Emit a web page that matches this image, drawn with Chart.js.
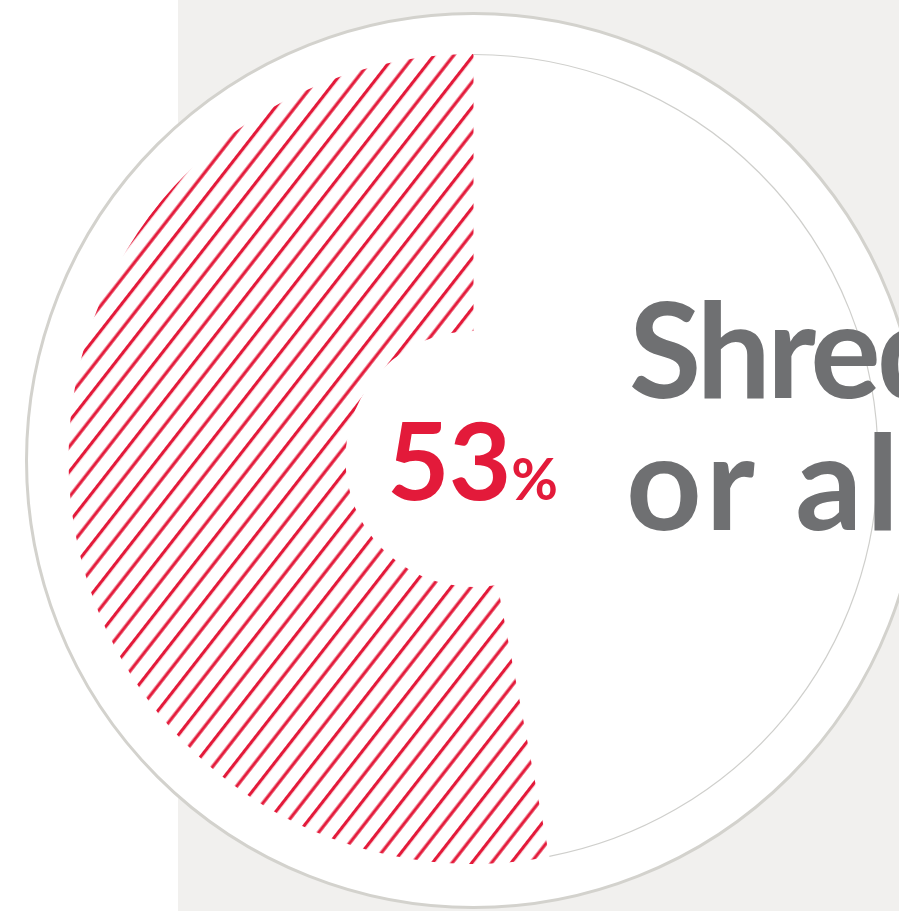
<!DOCTYPE html>
<html>
<head>
<meta charset="utf-8">
<script src="https://cdn.jsdelivr.net/npm/chart.js@4.4.1/dist/chart.umd.min.js"></script>
<style>
  html, body { margin: 0; padding: 0; background: #ffffff; overflow: hidden; }
  #c { display: block; }
</style>
</head>
<body>
<canvas id="c" width="899" height="911"></canvas>
<script>
// ---- data ----
const categories = ["Other", "Shred or all"];
const values = [47, 53];
const centerValue = "53";
const centerUnit = "%";
const titleLines = ["Shred", "or all"];

// ---- styles ----
const RED = "#e31a3a";
const GREY_TEXT = "#6f7072";
const PANEL = "#f1f0ee";
const RING = "#d3d2cd";

function makeHatch() {
  const tile = document.createElement("canvas");
  tile.width = 20; tile.height = 31;
  const t = tile.getContext("2d");
  t.fillStyle = RED;
  t.fillRect(0, 0, 20, 3.2);
  t.fillRect(0, 15.5, 20, 3.2);
  const p = document.getElementById("c").getContext("2d").createPattern(tile, "repeat");
  p.setTransform(new DOMMatrix().translate(0, 4).rotate(-52));
  return p;
}

const decor = {
  id: "decor",
  beforeDraw(chart) {
    const ctx = chart.ctx;
    const arc = chart.getDatasetMeta(0).data[0];
    ctx.save();
    ctx.fillStyle = "#ffffff";
    ctx.fillRect(0, 0, chart.width, chart.height);
    ctx.fillStyle = PANEL;
    ctx.fillRect(178, 0, chart.width - 178, chart.height);
    ctx.beginPath();
    ctx.arc(arc.x, arc.y + 1.5, arc.outerRadius + 42, 0, Math.PI * 2);
    ctx.fillStyle = "#ffffff";
    ctx.fill();
    ctx.lineWidth = 3;
    ctx.strokeStyle = RING;
    ctx.stroke();
    ctx.restore();
  },
  afterDatasetsDraw(chart) {
    const ctx = chart.ctx;
    const arc = chart.getDatasetMeta(0).data[0];
    ctx.save();
    ctx.beginPath();
    ctx.arc(arc.x, arc.y, arc.outerRadius - 0.5, arc.startAngle, arc.endAngle);
    ctx.lineWidth = 1.2;
    ctx.strokeStyle = "#cfcfcc";
    ctx.stroke();

    ctx.textBaseline = "alphabetic";
    ctx.textAlign = "left";
    ctx.fillStyle = RED;
    ctx.font = "bold 108px Lato";
    ctx.letterSpacing = "-1px";
    ctx.fillText(centerValue, 387, 500);
    const w = ctx.measureText(centerValue).width;
    ctx.letterSpacing = "0px";
    ctx.font = "bold 57px Lato";
    ctx.fillText(centerUnit, 387 + w + 1, 500);

    ctx.fillStyle = GREY_TEXT;
    ctx.font = "bold 132px Lato";
    ctx.letterSpacing = "-4px";
    ctx.fillText(titleLines[0], 629, 398);
    ctx.letterSpacing = "4px";
    ctx.fillText(titleLines[1], 626, 530);
    ctx.restore();
  }
};

new Chart(document.getElementById("c"), {
  type: "doughnut",
  data: {
    labels: categories,
    datasets: [{
      data: values,
      backgroundColor: ["#ffffff", makeHatch()],
      borderWidth: 0,
      hoverOffset: 0
    }]
  },
  options: {
    responsive: false,
    animation: false,
    cutout: "31.6%",
    rotation: 0,
    layout: { padding: { top: 54, bottom: 47, left: 68.5, right: 20.5 } },
    plugins: { legend: { display: false }, tooltip: { enabled: false } },
    events: []
  },
  plugins: [decor]
});
</script>
</body>
</html>
